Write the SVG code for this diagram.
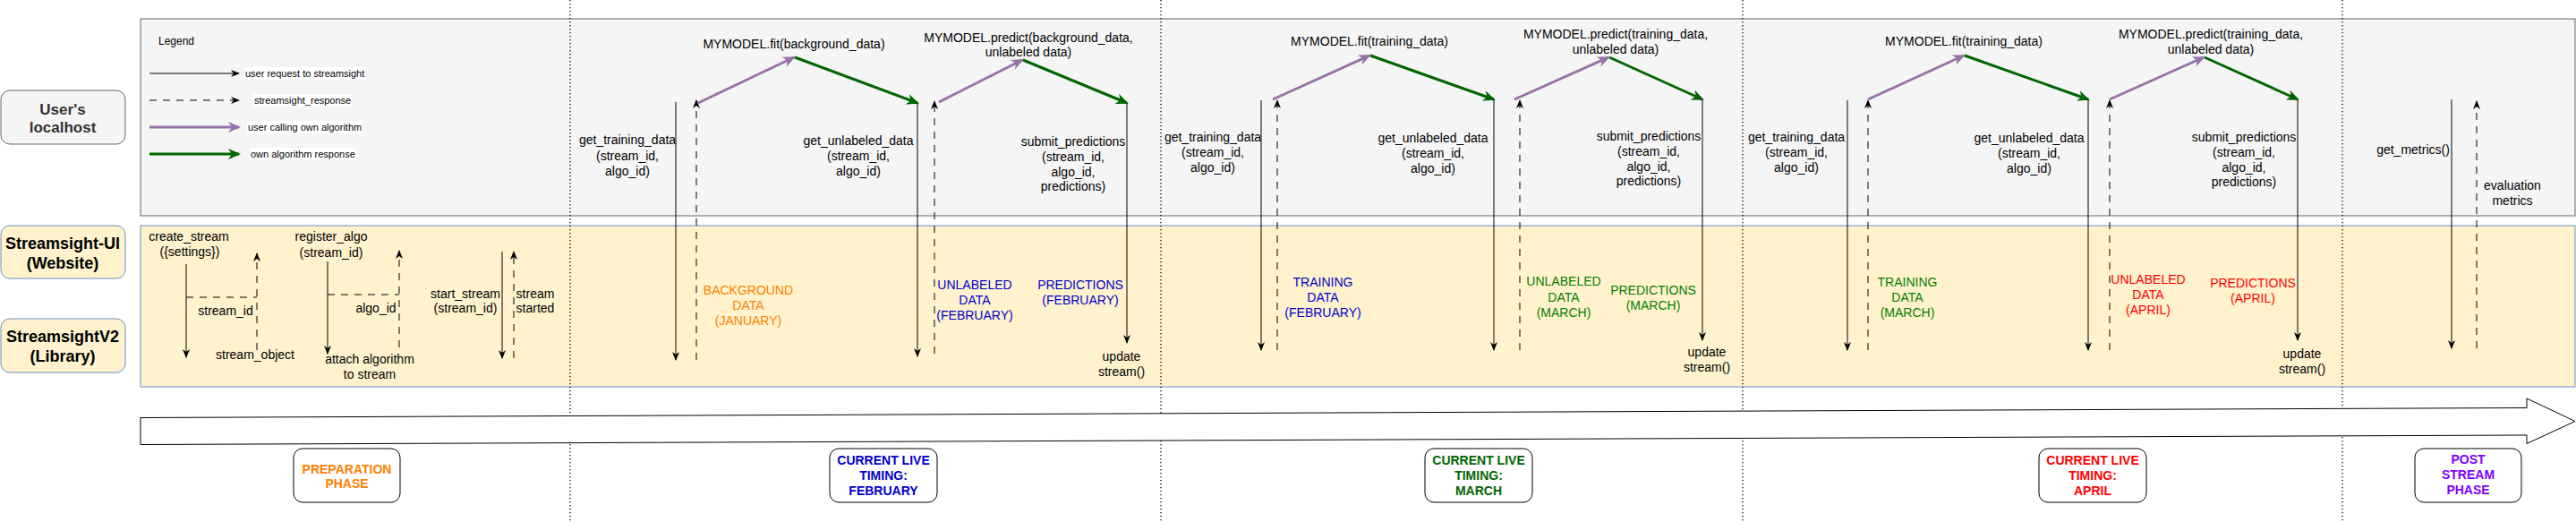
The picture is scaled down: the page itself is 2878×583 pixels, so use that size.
<svg xmlns="http://www.w3.org/2000/svg" width="2878" height="583" viewBox="0 0 2878 583">
<style>
text{font-family:"Liberation Sans",Arial,Helvetica,sans-serif;font-size:14px;text-anchor:middle;fill:#000}
.lg{font-size:11px;text-anchor:start}
.lgh{font-size:12px;text-anchor:start}
.lane{font-weight:bold;font-size:18px}
.ph{font-weight:bold;font-size:14px}
.req{stroke:#000;stroke-width:1;fill:none;marker-end:url(#ah)}
.resp{stroke:#000;stroke-width:1;stroke-dasharray:8 7;fill:none;marker-end:url(#ah)}
.dl{stroke:#000;stroke-width:1;stroke-dasharray:8 7;fill:none}
.call{stroke:#9673A6;stroke-width:3;fill:none;marker-end:url(#ap)}
.ret{stroke:#006600;stroke-width:3;fill:none;marker-end:url(#ag)}
.dot{stroke:#000;stroke-width:1.3;stroke-dasharray:1.3 2.7}
.orange{fill:#FF8000}.blue{fill:#0000CC}.green{fill:#008000}.red{fill:#FF0000}
.phbox{fill:#fff;stroke:#000;stroke-width:1}
</style>
<defs>
<marker id="ah" viewBox="0 0 10 8" refX="9" refY="4" markerWidth="10" markerHeight="8" markerUnits="userSpaceOnUse" orient="auto"><path d="M0,0 L10,4 L0,8 L3,4 Z" fill="#000"/></marker>
<marker id="ap" viewBox="0 0 14 12" refX="12" refY="6" markerWidth="14" markerHeight="12" markerUnits="userSpaceOnUse" orient="auto"><path d="M0,0 L14,6 L0,12 L4,6 Z" fill="#9673A6"/></marker>
<marker id="ag" viewBox="0 0 14 12" refX="12" refY="6" markerWidth="14" markerHeight="12" markerUnits="userSpaceOnUse" orient="auto"><path d="M0,0 L14,6 L0,12 L4,6 Z" fill="#006600"/></marker>
</defs>
<rect width="2878" height="583" fill="#fff"/>

<g id="lane-areas">
<rect x="157" y="21" width="2720" height="220" fill="#f5f5f5" stroke="#666" stroke-width="1"/>
<rect x="157" y="252" width="2720" height="180" fill="#fff2cc" stroke="#6c8ebf" stroke-width="1"/>
</g>

<g id="phase-separators">
<line class="dot" x1="637" y1="0" x2="637" y2="583"/>
<line class="dot" x1="1297" y1="0" x2="1297" y2="583"/>
<line class="dot" x1="1947" y1="0" x2="1947" y2="583"/>
<line class="dot" x1="2617" y1="0" x2="2617" y2="583"/>
</g>

<g id="node-users-localhost">
<rect x="1" y="101" width="139" height="60" rx="10" fill="#f5f5f5" stroke="#666"/>
<text class="lane" x="70" y="128" style="fill:#333;font-size:17px">User's</text>
<text class="lane" x="70" y="148" style="fill:#333;font-size:17px">localhost</text>
</g>
<g id="node-streamsight-ui">
<rect x="1" y="252" width="139" height="59" rx="10" fill="#fff2cc" stroke="#6c8ebf"/>
<text class="lane" x="70" y="277.5">Streamsight-UI</text>
<text class="lane" x="70" y="299.5">(Website)</text>
</g>
<g id="node-streamsight-v2">
<rect x="1" y="356" width="139" height="60" rx="10" fill="#fff2cc" stroke="#6c8ebf"/>
<text class="lane" x="70" y="381.5">StreamsightV2</text>
<text class="lane" x="70" y="403.5">(Library)</text>
</g>

<g id="legend">
<text class="lgh" x="177" y="50">Legend</text>
<line class="req" x1="167" y1="82" x2="267" y2="82"/>
<line class="resp" x1="167" y1="112" x2="267" y2="112"/>
<line class="call" x1="167" y1="142" x2="267" y2="142"/>
<line class="ret" x1="167" y1="172" x2="267" y2="172"/>
<rect x="273" y="75" width="135" height="14" fill="#fff"/>
<text class="lg" x="274" y="86">user request to streamsight</text>
<rect x="283" y="105" width="110" height="14" fill="#fff"/>
<text class="lg" x="284" y="116">streamsight_response</text>
<rect x="276" y="135" width="129" height="14" fill="#fff"/>
<text class="lg" x="277" y="146">user calling own algorithm</text>
<rect x="279" y="165" width="119" height="14" fill="#fff"/>
<text class="lg" x="280" y="176">own algorithm response</text>
</g>

<g id="connectors">
<!-- preparation -->
<line class="req" x1="208" y1="295" x2="208" y2="399"/>
<line class="dl" x1="208" y1="332" x2="287" y2="332"/>
<line class="resp" x1="287" y1="391" x2="287" y2="283"/>
<line class="req" x1="366" y1="292" x2="366" y2="395"/>
<line class="dl" x1="366" y1="329" x2="446" y2="329"/>
<line class="resp" x1="446" y1="388" x2="446" y2="280"/>
<line class="req" x1="561" y1="281" x2="561" y2="400"/>
<line class="resp" x1="574" y1="400" x2="574" y2="281"/>
<!-- february -->
<line class="req" x1="755" y1="114" x2="755" y2="402"/>
<line class="resp" x1="778" y1="402" x2="778" y2="112"/>
<line class="call" x1="780" y1="115" x2="887" y2="64"/>
<line class="ret" x1="888" y1="64" x2="1025" y2="115"/>
<line class="req" x1="1025" y1="115" x2="1025" y2="398"/>
<line class="resp" x1="1044" y1="395" x2="1044" y2="113"/>
<line class="call" x1="1049" y1="114" x2="1142" y2="67"/>
<line class="ret" x1="1143" y1="67" x2="1259" y2="115"/>
<line class="req" x1="1259" y1="115" x2="1259" y2="383"/>
<!-- march -->
<line class="req" x1="1409" y1="112" x2="1409" y2="391"/>
<line class="resp" x1="1427" y1="391" x2="1427" y2="112"/>
<line class="call" x1="1422" y1="111" x2="1530" y2="62"/>
<line class="ret" x1="1531" y1="62" x2="1669" y2="111"/>
<line class="req" x1="1669" y1="111" x2="1669" y2="391"/>
<line class="resp" x1="1698" y1="391" x2="1698" y2="112"/>
<line class="call" x1="1692" y1="111" x2="1797" y2="64"/>
<line class="ret" x1="1798" y1="64" x2="1902" y2="111"/>
<line class="req" x1="1902" y1="111" x2="1902" y2="380"/>
<!-- april -->
<line class="req" x1="2064" y1="112" x2="2064" y2="391"/>
<line class="resp" x1="2087" y1="391" x2="2087" y2="112"/>
<line class="call" x1="2087" y1="111" x2="2194" y2="62"/>
<line class="ret" x1="2195" y1="62" x2="2333" y2="111"/>
<line class="req" x1="2333" y1="111" x2="2333" y2="391"/>
<line class="resp" x1="2357" y1="391" x2="2357" y2="112"/>
<line class="call" x1="2357" y1="111" x2="2462" y2="64"/>
<line class="ret" x1="2463" y1="64" x2="2567" y2="111"/>
<line class="req" x1="2567" y1="111" x2="2567" y2="380"/>
<!-- post stream -->
<line class="req" x1="2739" y1="111" x2="2739" y2="389"/>
<line class="resp" x1="2767" y1="389" x2="2767" y2="113"/>
</g>

<g id="labels-preparation">
<text x="211" y="269">create_stream</text>
<text x="212" y="286">({settings})</text>
<text x="252" y="352">stream_id</text>
<text x="285" y="401">stream_object</text>
<text x="370" y="269">register_algo</text>
<text x="370" y="287">(stream_id)</text>
<text x="420" y="349">algo_id</text>
<text x="413" y="406">attach algorithm</text>
<text x="413" y="423">to stream</text>
<text x="520" y="333">start_stream</text>
<text x="520" y="349">(stream_id)</text>
<text x="598" y="333">stream</text>
<text x="598" y="349">started</text>
</g>

<g id="labels-february">
<text x="701" y="161">get_training_data</text>
<text x="701" y="179">(stream_id,</text>
<text x="701" y="196">algo_id)</text>
<text x="887" y="54">MYMODEL.fit(background_data)</text>
<text x="959" y="162">get_unlabeled_data</text>
<text x="959" y="179">(stream_id,</text>
<text x="959" y="196">algo_id)</text>
<text class="orange" x="836" y="329">BACKGROUND</text>
<text class="orange" x="836" y="346">DATA</text>
<text class="orange" x="836" y="363">(JANUARY)</text>
<text x="1149" y="47">MYMODEL.predict(background_data,</text>
<text x="1149" y="63">unlabeled data)</text>
<text x="1199" y="163">submit_predictions</text>
<text x="1199" y="180">(stream_id,</text>
<text x="1199" y="197">algo_id,</text>
<text x="1199" y="213">predictions)</text>
<text class="blue" x="1089" y="323">UNLABELED</text>
<text class="blue" x="1089" y="340">DATA</text>
<text class="blue" x="1089" y="357">(FEBRUARY)</text>
<text class="blue" x="1207" y="323">PREDICTIONS</text>
<text class="blue" x="1207" y="340">(FEBRUARY)</text>
<text x="1253" y="403">update</text>
<text x="1253" y="420">stream()</text>
</g>

<g id="labels-march">
<text x="1355" y="158">get_training_data</text>
<text x="1355" y="175">(stream_id,</text>
<text x="1355" y="192">algo_id)</text>
<text x="1530" y="51">MYMODEL.fit(training_data)</text>
<text x="1601" y="159">get_unlabeled_data</text>
<text x="1601" y="176">(stream_id,</text>
<text x="1601" y="193">algo_id)</text>
<text class="blue" x="1478" y="320">TRAINING</text>
<text class="blue" x="1478" y="337">DATA</text>
<text class="blue" x="1478" y="354">(FEBRUARY)</text>
<text x="1805" y="43">MYMODEL.predict(training_data,</text>
<text x="1805" y="60">unlabeled data)</text>
<text x="1842" y="157">submit_predictions</text>
<text x="1842" y="174">(stream_id,</text>
<text x="1842" y="191">algo_id,</text>
<text x="1842" y="207">predictions)</text>
<text class="green" x="1747" y="319">UNLABELED</text>
<text class="green" x="1747" y="337">DATA</text>
<text class="green" x="1747" y="354">(MARCH)</text>
<text class="green" x="1847" y="329">PREDICTIONS</text>
<text class="green" x="1847" y="346">(MARCH)</text>
<text x="1907" y="398">update</text>
<text x="1907" y="415">stream()</text>
</g>

<g id="labels-april">
<text x="2007" y="158">get_training_data</text>
<text x="2007" y="175">(stream_id,</text>
<text x="2007" y="192">algo_id)</text>
<text x="2194" y="51">MYMODEL.fit(training_data)</text>
<text x="2267" y="159">get_unlabeled_data</text>
<text x="2267" y="176">(stream_id,</text>
<text x="2267" y="193">algo_id)</text>
<text class="green" x="2131" y="320">TRAINING</text>
<text class="green" x="2131" y="337">DATA</text>
<text class="green" x="2131" y="354">(MARCH)</text>
<text x="2470" y="43">MYMODEL.predict(training_data,</text>
<text x="2470" y="60">unlabeled data)</text>
<text x="2507" y="158">submit_predictions</text>
<text x="2507" y="175">(stream_id,</text>
<text x="2507" y="192">algo_id,</text>
<text x="2507" y="208">predictions)</text>
<text class="red" x="2400" y="317">UNLABELED</text>
<text class="red" x="2400" y="334">DATA</text>
<text class="red" x="2400" y="351">(APRIL)</text>
<text class="red" x="2517" y="321">PREDICTIONS</text>
<text class="red" x="2517" y="338">(APRIL)</text>
<text x="2572" y="400">update</text>
<text x="2572" y="417">stream()</text>
</g>

<g id="labels-post-stream">
<text x="2696" y="172">get_metrics()</text>
<text x="2807" y="212">evaluation</text>
<text x="2807" y="229">metrics</text>
</g>

<g id="timeline">
<polygon points="157,466.5 2823,455.5 2823,445 2877,470.5 2823,495.5 2823,486 157,496.5" fill="#fff" stroke="#000" stroke-width="1"/>
</g>

<g id="phase-preparation">
<rect class="phbox" x="328" y="501" width="119" height="60" rx="10"/>
<text class="ph" x="387.5" y="529" style="fill:#FF8000">PREPARATION</text>
<text class="ph" x="387.5" y="545" style="fill:#FF8000">PHASE</text>
</g>
<g id="phase-february">
<rect class="phbox" x="927" y="501" width="120" height="60" rx="10"/>
<text class="ph" x="987" y="519" style="fill:#0000CC">CURRENT LIVE</text>
<text class="ph" x="987" y="536" style="fill:#0000CC">TIMING:</text>
<text class="ph" x="987" y="553" style="fill:#0000CC">FEBRUARY</text>
</g>
<g id="phase-march">
<rect class="phbox" x="1592" y="501" width="120" height="60" rx="10"/>
<text class="ph" x="1652" y="519" style="fill:#006600">CURRENT LIVE</text>
<text class="ph" x="1652" y="536" style="fill:#006600">TIMING:</text>
<text class="ph" x="1652" y="553" style="fill:#006600">MARCH</text>
</g>
<g id="phase-april">
<rect class="phbox" x="2278" y="501" width="120" height="60" rx="10"/>
<text class="ph" x="2338" y="519" style="fill:#FF0000">CURRENT LIVE</text>
<text class="ph" x="2338" y="536" style="fill:#FF0000">TIMING:</text>
<text class="ph" x="2338" y="553" style="fill:#FF0000">APRIL</text>
</g>
<g id="phase-post-stream">
<rect class="phbox" x="2698" y="501" width="119" height="60" rx="10"/>
<text class="ph" x="2757.5" y="518" style="fill:#7F00FF">POST</text>
<text class="ph" x="2757.5" y="535" style="fill:#7F00FF">STREAM</text>
<text class="ph" x="2757.5" y="552" style="fill:#7F00FF">PHASE</text>
</g>
</svg>
